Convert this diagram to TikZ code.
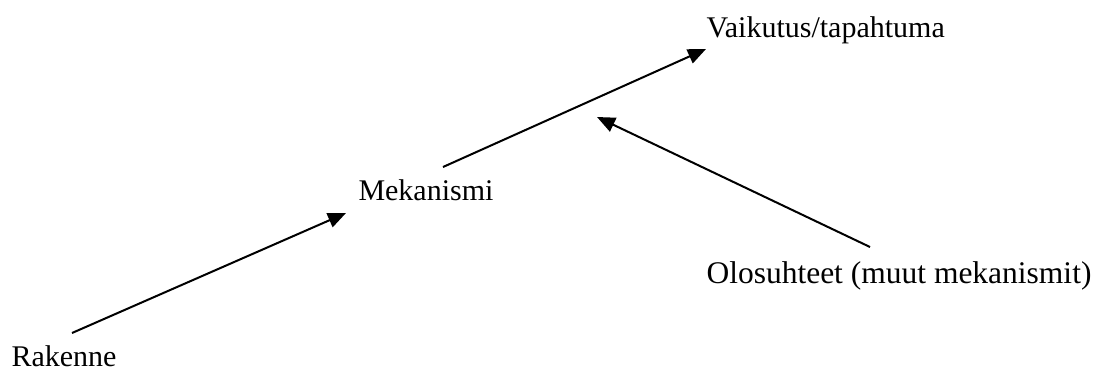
\documentclass[tikz,border=0pt]{standalone}
\usepackage{fontspec}
\setmainfont{Liberation Serif}
\usetikzlibrary{arrows.meta}
\begin{document}
\begin{tikzpicture}[x=0.4pt, y=-0.4pt, font=\fontsize{12}{14}\selectfont,
    label/.style={inner sep=0pt, anchor=base west},
    arr/.style={line width=0.8pt, -{Triangle[length=7.2pt, width=6pt]}}]
  \useasboundingbox (0,0) rectangle (1101,369);
  \node[label] (rakenne) at (11,366) {Rakenne};
  \node[label] (mekanismi) at (358,200) {Mekanismi};
  \node[label] (vaikutus) at (706,37) {Vaikutus/tapahtuma};
  \node[label, font=\fontsize{12.6}{15}\selectfont] (olosuhteet) at (706,283) {Olosuhteet (muut mekanismit)};
  \draw[arr] ([shift={(61,-33)}]rakenne.base west) -- ([shift={(-12,13)}]mekanismi.base west);
  \draw[arr] ([shift={(85,-33)}]mekanismi.base west) -- ([shift={(0,12)}]vaikutus.base west);
  \draw[arr] ([shift={(164,-36)}]olosuhteet.base west) -- ([shift={(-109,80)}]vaikutus.base west);
\end{tikzpicture}
\end{document}
